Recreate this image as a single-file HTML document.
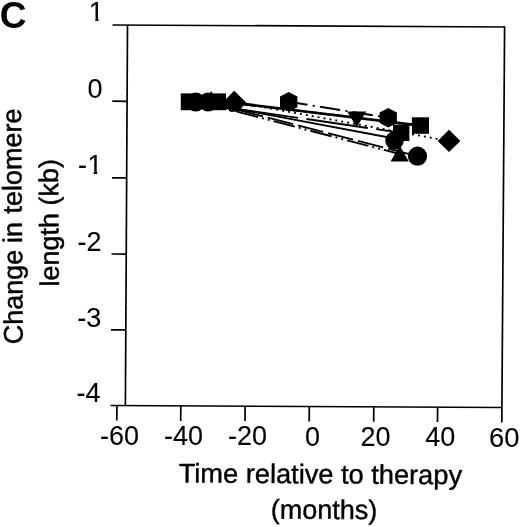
<!DOCTYPE html>
<html>
<head>
<meta charset="utf-8">
<title>C</title>
<style>
html,body{margin:0;padding:0;background:#fff;}
body{width:520px;height:527px;overflow:hidden;}
svg{display:block;}
text{font-family:"Liberation Sans",Arial,Helvetica,sans-serif;fill:#000;}
</style>
</head>
<body>
<svg width="520" height="527" viewBox="0 0 520 527">
<rect x="0" y="0" width="520" height="527" fill="#fff"/>

<!-- axes -->
<g stroke="#000" stroke-width="1.7" fill="none" stroke-linecap="butt">
  <line x1="112.5" y1="25" x2="505.2" y2="27"/>
  <line x1="127.5" y1="25" x2="125.4" y2="406"/>
  <line x1="504.6" y1="26.5" x2="501.8" y2="422.4"/>
  <line x1="110.5" y1="405.5" x2="502" y2="407.5"/>
  <!-- y ticks -->
  <line x1="112.3" y1="101.2" x2="127" y2="101.3"/>
  <line x1="112" y1="177.8" x2="126.6" y2="177.9"/>
  <line x1="111.5" y1="254" x2="126.2" y2="254.1"/>
  <line x1="111" y1="329.8" x2="125.8" y2="329.9"/>
  <!-- x ticks -->
  <line x1="116.9" y1="405.5" x2="116.8" y2="420.6"/>
  <line x1="180.8" y1="405.8" x2="180.7" y2="420.9"/>
  <line x1="245.1" y1="406.2" x2="245" y2="421.1"/>
  <line x1="309.3" y1="406.5" x2="309.2" y2="421.4"/>
  <line x1="373.8" y1="406.8" x2="373.7" y2="421.7"/>
  <line x1="437.6" y1="407.2" x2="437.5" y2="422"/>
</g>

<!-- panel label -->
<text x="-0.3" y="27.6" font-size="37" font-weight="bold">C</text>

<g stroke="#000" stroke-width="0.4" stroke-linejoin="round">
<!-- y tick labels -->
<g font-size="27" text-anchor="end" stroke-width="0.1">
  <text x="103.9" y="21.4">1</text>
  <text x="102.5" y="97.5">0</text>
  <text x="102.6" y="174.3">-<tspan dx="0.6">1</tspan></text>
  <text x="101.5" y="250.8">-2</text>
  <text x="101.2" y="326.8">-3</text>
  <text x="100.5" y="401.9">-4</text>
</g>

<!-- x tick labels -->
<g font-size="27" stroke-width="0.1">
  <text x="100" y="444.8">-60</text>
  <text x="163.9" y="445">-40</text>
  <text x="228" y="445.2">-20</text>
  <text x="304.9" y="445.6">0</text>
  <text x="360.4" y="445.8">20</text>
  <text x="425.2" y="446.1">40</text>
  <text x="489.1" y="446.8" textLength="30.5" lengthAdjust="spacingAndGlyphs">60</text>
</g>

<!-- axis titles -->
<g font-size="27">
  <text transform="translate(178.7,482.4) rotate(0.38)" textLength="283.3" lengthAdjust="spacingAndGlyphs">Time relative to therapy</text>
  <text transform="translate(270.8,518.6) rotate(0.33)">(months)</text>
  <text stroke-width="0.45" transform="translate(22.8,344.2) rotate(-90.44)">Change<tspan dx="-0.9"> in</tspan><tspan dx="0.9"> telomere</tspan></text>
  <text stroke-width="0.45" transform="translate(58.9,286.5) rotate(-90.44)">length (kb)</text>
</g>
</g>

<!-- trim serif foot of digit one to match sans style -->
<g fill="#fff" stroke="none">
  <rect x="88.7" y="17.6" width="6.6" height="5.4"/>
  <rect x="98.6" y="17.6" width="5.5" height="5.4"/>
  <rect x="87.9" y="170.9" width="5.8" height="5.4"/>
  <rect x="97.2" y="170.9" width="5.5" height="5.4"/>
</g>

<!-- data lines -->
<g stroke="#000" stroke-width="1.9" fill="none">
  <line x1="288.7" y1="101.8" x2="388.3" y2="117.7" stroke-dasharray="20.5 5.3 2 5.3" stroke-dashoffset="1.5"/>
  <line x1="228" y1="102" x2="420.5" y2="125.6" stroke-width="2.6"/>
  <line x1="222" y1="102" x2="356.7" y2="117.5" stroke-width="2" stroke-dasharray="12 4 2 4"/>
  <line x1="235" y1="102" x2="449" y2="141" stroke-width="1.9" stroke-dasharray="1.9 4.1"/>
  <line x1="189" y1="102" x2="401.2" y2="132.8" stroke-dasharray="62 8.5" stroke-dashoffset="22.3"/>
  <line x1="197.5" y1="101.5" x2="394.5" y2="138.5"/>
  <line x1="207" y1="102" x2="417.5" y2="156.2" stroke-dasharray="26 5" stroke-dashoffset="30.1"/>
  <line x1="200" y1="102" x2="399.7" y2="154" stroke-dasharray="22 4 2 4 2 4"/>
</g>

<!-- markers -->
<g fill="#000" stroke="none">
  <!-- start cluster -->
  <rect x="180.8" y="93.4" width="17.2" height="16.8"/>
  <circle cx="195.8" cy="102" r="9.5"/>
  <circle cx="208" cy="102" r="9.5"/>
  <polygon points="211.2,91 221,108.5 201.4,108.5"/>
  <rect x="209" y="93.4" width="17" height="16.8"/>
  <polygon points="234.2,90.7 246.2,102.5 238,111.8 230,111.8 222.5,102.5"/>
  <!-- mid markers -->
  <polygon points="288.7,92 297.4,96.6 297.4,107.2 288.7,111.6 280,107.2 280,96.6"/>
  <polygon points="347.2,111.6 366.2,111.6 356.7,127.3"/>
  <!-- end markers -->
  <polygon points="388.3,107.9 396.9,112.6 396.9,122.9 388.3,127.5 379.6,122.9 379.6,112.6"/>
  <rect x="411.9" y="117.3" width="17.1" height="16.5"/>
  <polygon points="449,129.8 460.4,141 449,152.1 437.7,141"/>
  <rect x="393" y="124.6" width="16.4" height="16.4"/>
  <circle cx="394.5" cy="140.5" r="9.3"/>
  <polygon points="399.7,145.5 408.8,161.5 390.6,161.5"/>
  <circle cx="417.5" cy="156.2" r="9.6"/>
</g>
</svg>
</body>
</html>
